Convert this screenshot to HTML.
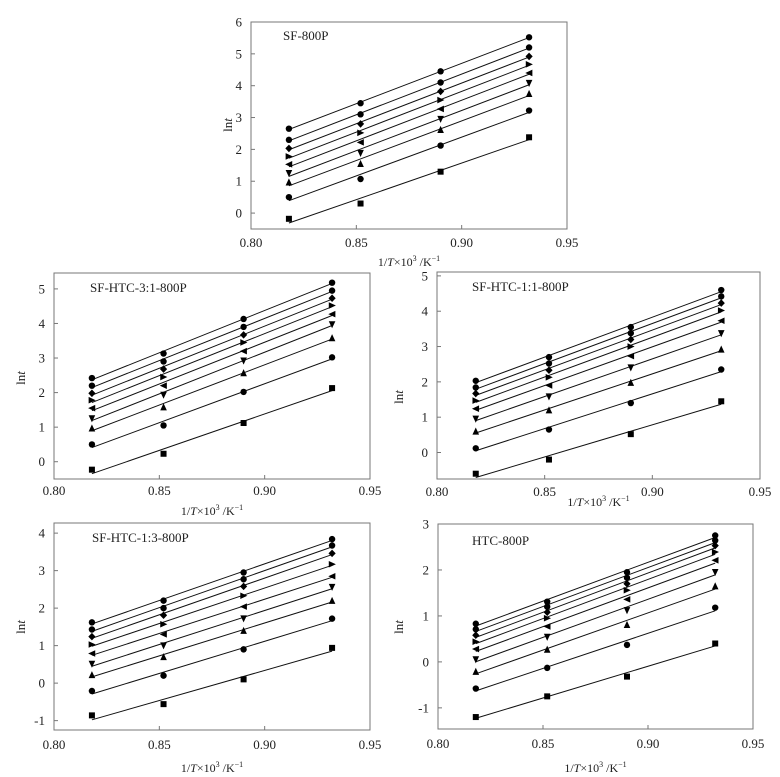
<!DOCTYPE html>
<html><head><meta charset="utf-8"><style>
body{margin:0;background:#fff;width:780px;height:777px;overflow:hidden}
svg{display:block;font-family:"Liberation Serif",serif}
</style></head><body>
<svg id="chart" width="780" height="777" viewBox="0 0 780 777"></svg>
<script>
const xValues = [0.818, 0.852, 0.890, 0.932];
const xTicks = [0.80, 0.85, 0.90, 0.95];
const xTickLabels = ["0.80", "0.85", "0.90", "0.95"];
const markerTypes = ["circle","circle","diamond","right","left","down","up","circle","square"];
// series values, top to bottom, one row per series: values at xValues
const sf800 = [[2.65,3.45,4.45,5.52],[2.3,3.1,4.1,5.2],[2.03,2.8,3.82,4.92],[1.78,2.52,3.55,4.67],[1.53,2.22,3.27,4.4],[1.25,1.88,2.95,4.08],[0.97,1.55,2.62,3.75],[0.5,1.07,2.12,3.22],[-0.18,0.3,1.3,2.38]];
const sf31 = [[2.42,3.13,4.13,5.18],[2.2,2.9,3.9,4.95],[1.98,2.68,3.67,4.73],[1.78,2.45,3.45,4.52],[1.55,2.2,3.2,4.27],[1.25,1.93,2.92,3.97],[0.97,1.58,2.57,3.58],[0.5,1.05,2.02,3.02],[-0.23,0.23,1.12,2.13]];
const sf11 = [[2.03,2.7,3.55,4.6],[1.84,2.52,3.38,4.42],[1.67,2.33,3.2,4.23],[1.47,2.13,3.0,4.02],[1.24,1.9,2.73,3.73],[0.95,1.58,2.4,3.37],[0.6,1.2,1.98,2.92],[0.12,0.65,1.4,2.35],[-0.6,-0.2,0.52,1.45]];
const sf13 = [[1.62,2.2,2.95,3.84],[1.43,2.0,2.77,3.67],[1.24,1.81,2.58,3.46],[1.03,1.57,2.33,3.17],[0.79,1.3,2.04,2.85],[0.51,1.0,1.72,2.56],[0.22,0.7,1.4,2.2],[-0.21,0.2,0.9,1.72],[-0.86,-0.56,0.1,0.94]];
const htc800 = [[0.83,1.31,1.95,2.75],[0.71,1.2,1.83,2.64],[0.58,1.08,1.7,2.53],[0.44,0.95,1.56,2.39],[0.28,0.77,1.36,2.21],[0.05,0.54,1.12,1.95],[-0.21,0.27,0.81,1.65],[-0.58,-0.13,0.37,1.18],[-1.2,-0.75,-0.32,0.4]];
const yTicks1 = [0,1,2,3,4,5,6];
const yTicks2 = [0,1,2,3,4,5];
const yTicks3 = [0,1,2,3,4,5];
const yTicks4 = [-1,0,1,2,3,4];
const yTicks5 = [-1,0,1,2,3];

const panels = [
 {name:"sf-800p",title:"SF-800P",data:sf800,yt:yTicks1,l:251,r:567,t:22,b:229,ymin:-0.5,ymax:6,tx:283,ty:40,lo:14,xt:262,yl:[232,125]},
 {name:"sf-htc-3-1-800p",title:"SF-HTC-3:1-800P",data:sf31,yt:yTicks2,l:54,r:370,t:273,b:479,ymin:-0.5,ymax:5.46,tx:90,ty:292,lo:12,xt:511,yl:[25,378]},
 {name:"sf-htc-1-1-800p",title:"SF-HTC-1:1-800P",data:sf11,yt:yTicks3,l:437,r:760,t:272,b:479,ymin:-0.75,ymax:5.11,tx:472,ty:291,lo:13,xt:502,yl:[403,397]},
 {name:"sf-htc-1-3-800p",title:"SF-HTC-1:3-800P",data:sf13,yt:yTicks4,l:54,r:370,t:523,b:730,ymin:-1.25,ymax:4.27,tx:92,ty:542,lo:15,xt:768,yl:[25,627]},
 {name:"htc-800p",title:"HTC-800P",data:htc800,yt:yTicks5,l:438,r:753,t:524,b:729,ymin:-1.46,ymax:3,tx:472,ty:545,lo:15,xt:768,yl:[403,627]}
];
const svg=document.getElementById('chart');
const NS="http://www.w3.org/2000/svg";
function mk(tag,attrs,parent){const e=document.createElementNS(NS,tag);for(const k in attrs)e.setAttribute(k,attrs[k]);parent.appendChild(e);return e;}
function marker(g,type,cx,cy){
 const s=3.3;let e;
 if(type==="circle") e=mk('circle',{cx:cx,cy:cy,r:3.2,fill:'#000'},g);
 else if(type==="square") e=mk('rect',{x:cx-3,y:cy-3,width:6,height:6,fill:'#000'},g);
 else {let p;
  if(type==="up")p=[[cx,cy-s-0.5],[cx-s,cy+s],[cx+s,cy+s]];
  if(type==="down")p=[[cx,cy+s+0.5],[cx-s,cy-s],[cx+s,cy-s]];
  if(type==="left")p=[[cx-s-0.5,cy],[cx+s,cy-s],[cx+s,cy+s]];
  if(type==="right")p=[[cx+s+0.5,cy],[cx-s,cy-s],[cx-s,cy+s]];
  if(type==="diamond")p=[[cx,cy-3.8],[cx+3.6,cy],[cx,cy+3.8],[cx-3.6,cy]];
  e=mk('polygon',{points:p.map(q=>q.join(',')).join(' '),fill:'#000'},g);}
 
 
}
panels.forEach(P=>{
 const g=mk('g',{},svg);
 
 
 const X=v=>P.l+(v-0.80)/(0.15)*(P.r-P.l);
 const Y=v=>P.b-(v-P.ymin)/(P.ymax-P.ymin)*(P.b-P.t);
 const fr=mk('rect',{x:P.l,y:P.t,width:P.r-P.l,height:P.b-P.t,fill:'none',stroke:'#777','stroke-width':1},g);
 
 
 xTicks.forEach((t,i)=>{
  const x=X(t);
  mk('line',{x1:x,x2:x,y1:P.b,y2:P.b-4,stroke:'#777'},g);
  const tx=mk('text',{x:x,y:P.b+P.lo+4,'text-anchor':'middle','font-size':13,fill:'#222'},g);
  tx.textContent=xTickLabels[i];
  
  
 });
 P.yt.forEach(t=>{
  const y=Y(t);
  mk('line',{x1:P.l,x2:P.l+4,y1:y,y2:y,stroke:'#777'},g);
  const tx=mk('text',{x:P.l-9,y:y+4.5,'text-anchor':'end','font-size':13,fill:'#222'},g);
  tx.textContent=String(t);
  
  
 });
 const xt=mk('text',{x:(P.l+P.r)/2,y:P.xt+4,'text-anchor':'middle','font-size':12,fill:'#222'},g);
 xt.innerHTML='1/<tspan font-style="italic">T</tspan>×10<tspan font-size="8" dy="-5">3</tspan><tspan dy="5"> /K</tspan><tspan font-size="8" dy="-5">−1</tspan>';
 
 
 const yl=mk('text',{x:P.yl[0],y:P.yl[1],'text-anchor':'middle','font-size':13,fill:'#222',transform:`rotate(-90 ${P.yl[0]} ${P.yl[1]})`},g);
 yl.innerHTML='ln<tspan font-style="italic">t</tspan>';
 
 
 const ti=mk('text',{x:P.tx,y:P.ty,'font-size':13,fill:'#222'},g);
 ti.textContent=P.title;
 
 
 P.data.forEach((ser,si)=>{
  const n=xValues.length;let mx=0,my=0;
  for(let i=0;i<n;i++){mx+=xValues[i];my+=ser[i];}mx/=n;my/=n;
  let sxy=0,sxx=0;for(let i=0;i<n;i++){sxy+=(xValues[i]-mx)*(ser[i]-my);sxx+=(xValues[i]-mx)**2;}
  const k=sxy/sxx,b0=my-k*mx;
  const x0=xValues[0],x1=xValues[n-1];
  const ln=mk('line',{x1:X(x0),y1:Y(k*x0+b0),x2:X(x1),y2:Y(k*x1+b0),stroke:'#111','stroke-width':1},g);
  
  
  ser.forEach((v,i)=>marker(g,markerTypes[si],X(xValues[i]),Y(v)));
 });
});
</script>
</body></html>
